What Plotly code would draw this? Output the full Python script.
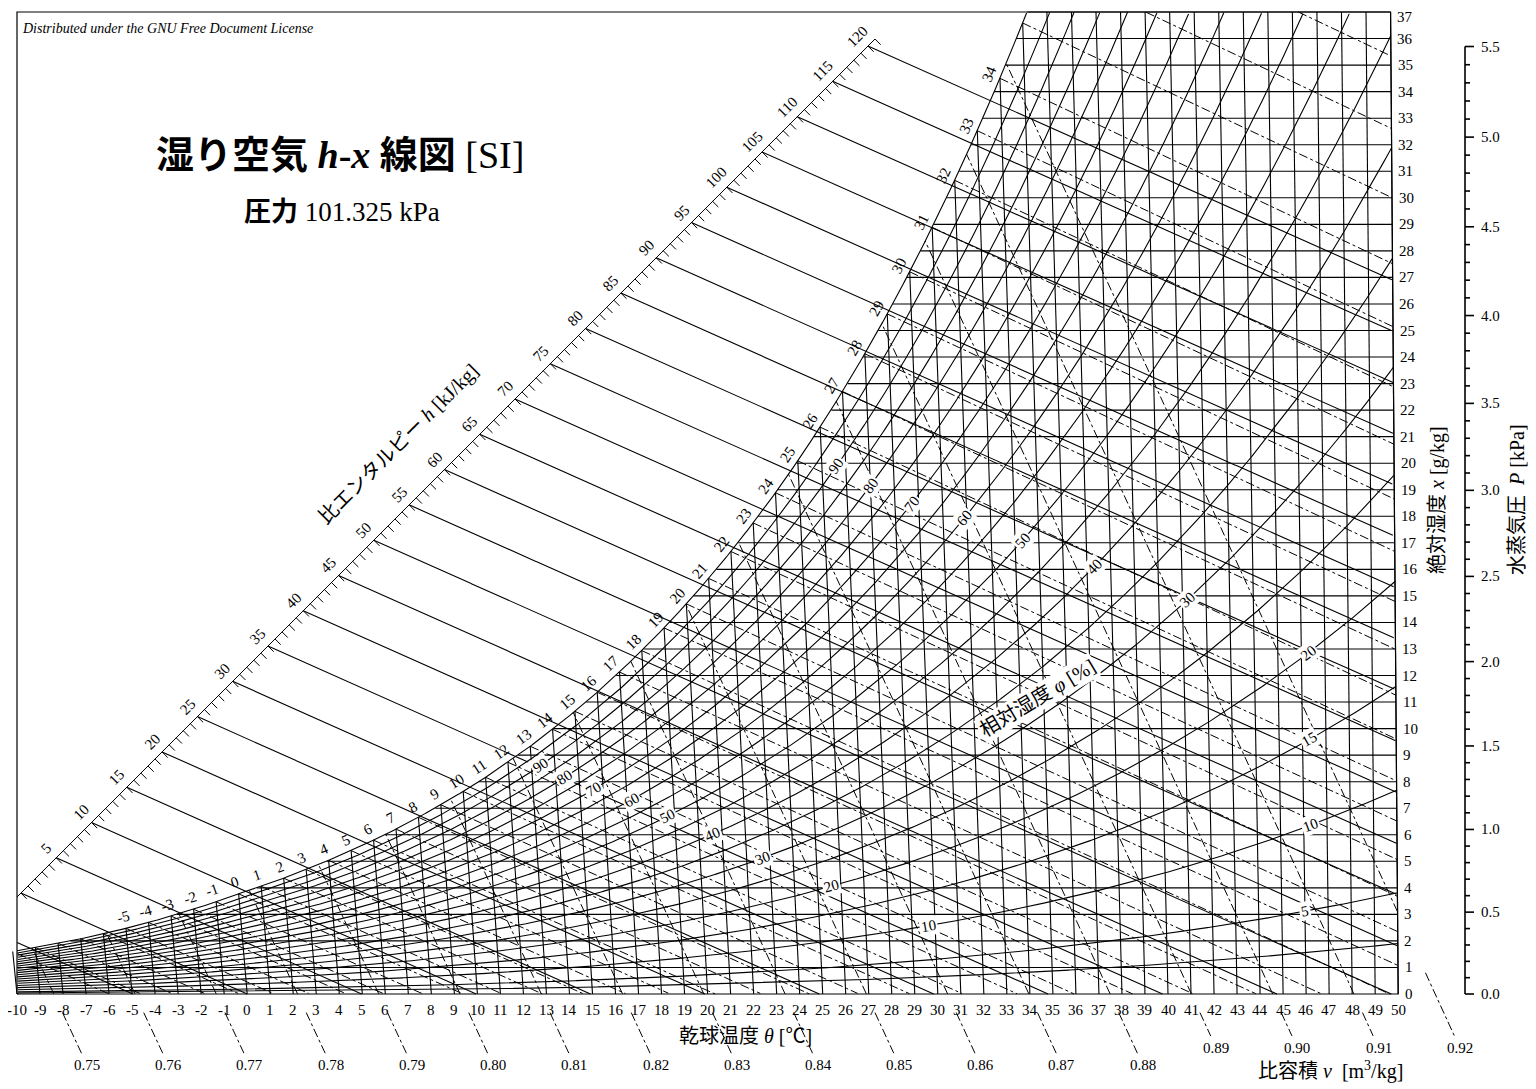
import numpy as np
import plotly.graph_objects as go

# --- data ---
P_ATM = 101.325
sat_t = list(range(-10, 51))
sat_p_kpa = [0.2599, 0.2844, 0.3100, 0.3376, 0.3677, 0.4015, 0.4372, 0.4760, 0.5176, 0.5626,
             0.6112, 0.6571, 0.7060, 0.7581, 0.8135, 0.8726, 0.9354, 1.0021, 1.0730, 1.1482,
             1.2282, 1.3130, 1.4028, 1.4981, 1.5990, 1.7058, 1.8188, 1.9384, 2.0647, 2.1983,
             2.3393, 2.4882, 2.6453, 2.8111, 2.9858, 3.1699, 3.3639, 3.5681, 3.7831, 4.0092,
             4.2470, 4.4969, 4.7596, 5.0354, 5.3251, 5.6290, 5.9479, 6.2823, 6.6328, 7.0002,
             7.3849, 7.7878, 8.2096, 8.6508, 9.1124, 9.5950, 10.099, 10.627, 11.177, 11.752, 12.352]
temp_ticks = list(range(-10, 51))
hum_ticks = list(range(0, 38))
enthalpy_lines = list(range(-10, 121, 5))
enthalpy_labels = list(range(5, 121, 5))
wetbulb_lines = list(range(-10, 41))
dew_labels = list(range(-5, 35))
rh_lines = [2.5] + list(range(5, 100, 5))
volume_lines = [round(0.75 + 0.01 * i, 2) for i in range(18)]
pressure_ticks = [round(0.1 * i, 1) for i in range(56)]
rh_labels_upper = [(90, 26.6), (80, 28.0), (70, 29.7), (60, 31.9), (50, 34.3), (40, 37.3),
                   (30, 41.2), (20, 46.3), (15, 46.3), (10, 46.3), (5, 46.0)]
rh_labels_lower = [(90, 13.4), (80, 14.4), (70, 15.6), (60, 17.2), (50, 18.7), (40, 20.6),
                   (30, 22.7), (20, 25.6), (10, 29.7)]

# chart geometry (screen px per degC / per g/kg, oblique h-x isotherms)
SX, SY = 23.02, 26.54
X0, Y0 = 9, 986
TMIN, TMAX, XMAX = -10, 50, 37
K_LEAN, T0 = 0.001794, 55.0


def U(t, x):
    return t + K_LEAN * x * (t - T0)


def ps(t):
    return np.interp(t, sat_t, sat_p_kpa)


def xsat(t):
    p = ps(t)
    return 622 * p / (P_ATM - p)


def inside(t, x, sat=True):
    ok = (U(t, x) >= TMIN - 1e-6) & (t <= TMAX + 1e-6) & (x >= -1e-6) & (x <= XMAX + 1e-6)
    if sat:
        ok &= x <= xsat(t) + 0.02
    return ok


def add_poly(bx, by, t, x, mask):
    t = np.asarray(t, float); x = np.asarray(x, float)
    u = U(t, x)
    prev = False
    for i in range(len(t)):
        if mask[i]:
            bx.append(u[i]); by.append(x[i]); prev = True
        elif prev:
            bx.append(None); by.append(None); prev = False
    if prev:
        bx.append(None); by.append(None)


fig = go.Figure()
anns = []
SERIF = "Liberation Serif, Noto Sans CJK JP"


def lines(bx, by, width=1, dash="solid", color="black"):
    fig.add_trace(go.Scatter(x=bx, y=by, mode="lines", hoverinfo="skip",
                             line=dict(color=color, width=width, dash=dash)))


def txt(u, x, s, size=15, angle=0, xa="center", ya="middle", bg=None, paper=False):
    d = dict(x=u, y=x, text=s, showarrow=False, textangle=angle, xanchor=xa, yanchor=ya,
             font=dict(family=SERIF, size=size, color="black"))
    if bg:
        d["bgcolor"] = bg
        d["borderpad"] = 1
    if paper:
        d["xref"] = "paper"; d["yref"] = "paper"
    anns.append(d)


# isotherms and humidity lines
bx, by = [], []
for t in temp_ticks:
    xt = min(xsat(t), XMAX)
    bx += [U(t, 0), U(t, xt), None]; by += [0, xt, None]
tt = np.linspace(TMIN, TMAX, 2401)
for xv in hum_ticks[1:]:
    td = tt[np.argmax(xsat(tt) >= xv)] if xsat(TMIN) < xv else TMIN
    ul = max(U(td, xv), TMIN)
    bx += [ul, U(TMAX, xv), None]; by += [xv, xv, None]
lines(bx, by, 1.1)

# saturation curve and RH curves
bx, by = [], []
t_s = np.linspace(TMIN - 0.5, TMAX, 1221)
add_poly(bx, by, t_s, xsat(t_s), inside(t_s, xsat(t_s)))
for rh in rh_lines:
    p = rh / 100 * ps(t_s)
    xr = 622 * p / (P_ATM - p)
    add_poly(bx, by, t_s, xr, inside(t_s, xr))
lines(bx, by, 1.1)


# enthalpy scale: straight line in screen space
def arc_x(u):
    return (Y0 + X0 - 898 + SX * (u + 10)) / SY


def h_t(h, x):
    return (h - 2.501 * x) / (1.006 + 0.001805 * x)


def h_on_arc(h):
    lo, hi = 0.0, 45.0
    for _ in range(60):
        m = 0.5 * (lo + hi)
        if arc_x(U(h_t(h, m), m)) > m:
            lo = m
        else:
            hi = m
    return U(h_t(h, m), m), m


bx, by = [], []
for h in enthalpy_lines:
    ua, xa = h_on_arc(h)
    xs_ = np.linspace(min(xa, XMAX), 0, 800)
    ts_ = h_t(h, xs_)
    add_poly(bx, by, ts_, xs_, inside(ts_, xs_, sat=False))
lines(bx, by, 1.1)

# arc line and ticks
u_top = h_on_arc(121)[0]
u_arc = np.linspace(TMIN, u_top, 50)
bx, by = list(u_arc), list(arc_x(u_arc))
bx.append(None); by.append(None)
du, dx = 5.7 / SX, -5.7 / SY
for h in range(-5, 122):
    ua, xa = h_on_arc(h)
    if ua < TMIN or xa > XMAX:
        continue
    bx += [ua, ua + du, None]; by += [xa, xa + dx, None]
lines(bx, by, 1)
for h in enthalpy_labels:
    ua, xa = h_on_arc(h)
    txt(ua - 10 / SX, xa + 10 / SY, str(h), 15, -45)

# wet-bulb lines (dash-dot)
bx, by = [], []
for tw in wetbulb_lines:
    xw = xsat(tw) / 1000
    t_w = np.linspace(tw, TMAX, 600)
    xl = ((2501 - 2.326 * tw) * xw - 1.006 * (t_w - tw)) / (2501 + 1.86 * t_w - 4.186 * tw) * 1000
    add_poly(bx, by, t_w, xl, inside(t_w, xl))
lines(bx, by, 1, "dashdot")


def vol_t(v, x):
    return v * P_ATM / (0.287042 * (1 + 1.6078 * x / 1000)) - 273.15


# specific volume lines and leaders
bx, by = [], []
for v in volume_lines:
    xv = np.linspace(-3, XMAX, 1600)
    tv = vol_t(v, xv)
    add_poly(bx, by, tv, xv, inside(tv, xv))
    L = 2.03 if v >= 0.885 else 2.68
    top = -0.7 if v < 0.915 else 0.8
    xl = np.linspace(top, -L + 0.45, 30)
    add_poly(bx, by, vol_t(v, xl), xl, np.ones(len(xl), bool))
    txt(U(vol_t(v, -L), -L), -L, f"{v:.2f}", 15)
lines(bx, by, 1, "dashdot")


def tangent_angle(fx, t):
    du_ = U(t + 0.5, fx(t + 0.5)) - U(t - 0.5, fx(t - 0.5))
    dx_ = fx(t + 0.5) - fx(t - 0.5)
    return np.arctan2(dx_ * SY, du_ * SX)


# dew point / wet-bulb labels along saturation
for t in dew_labels:
    ang = tangent_angle(xsat, t)
    nu, nx = -np.sin(ang) * 12 / SX, np.cos(ang) * 12 / SY
    txt(U(t, xsat(t)) + nu, xsat(t) + nx, str(t), 15, -np.degrees(ang))


# RH labels
def rh_label(rh, t):
    def fx(tt_):
        p = rh / 100 * ps(tt_)
        return 622 * p / (P_ATM - p)
    ang = np.degrees(tangent_angle(fx, t))
    txt(U(t, fx(t)), fx(t), str(rh), 15, -ang, bg="white")


for rh, t in rh_labels_upper + rh_labels_lower:
    rh_label(rh, t)

# axis labels
for t in temp_ticks:
    txt(t, -0.62, str(t), 15)
for xv in hum_ticks:
    txt(U(TMAX, xv) + 0.2, xv - (0.2 if xv == 37 else 0), str(xv), 15, xa="left")

# vapour pressure axis
TP = (1465 - 8 - X0) / SX - 10
bx, by = [TP, TP, None], [0, 622 * 5.5 / (P_ATM - 5.5), None]
for p in pressure_ticks:
    xp = 622 * p / (P_ATM - p)
    major = abs(p * 2 - round(p * 2)) < 1e-6
    ln = 9 if major else 5
    bx += [TP, TP + ln / SX, None]; by += [xp, xp, None]
    if major:
        txt(TP + 14 / SX, xp, f"{p:.1f}", 15, xa="left")
lines(bx, by, 1.6)

# frame
lines([TMIN, TMIN, U(TMAX, XMAX), U(TMAX, 0), TMIN],
      [0, XMAX, XMAX, 0, 0], 1.2)


# titles and texts (paper coords, reference px)
def pp(px, py):
    return (px - 8) / 1536, 1 - (py - 8) / 1089


x_, y_ = pp(20, 28)
txt(x_, y_, "<i>Distributed under the GNU Free Document License</i>", 14, xa="left", paper=True)
x_, y_ = pp(340, 155)
txt(x_, y_, "<b>湿り空気 <i>h</i>-<i>x</i> 線図</b> [SI]", 38, paper=True)
x_, y_ = pp(342, 212)
txt(x_, y_, "<b>圧力</b> 101.325 kPa", 27, paper=True)
x_, y_ = pp(745, 1036)
txt(x_, y_, "乾球温度 <i>θ</i> [℃]", 20, paper=True)
x_, y_ = pp(1330, 1070)
txt(x_, y_, "比容積 <i>ν</i>  [m<sup>3</sup>/kg]", 20, paper=True)
x_, y_ = pp(1437, 500)
txt(x_, y_, "絶対湿度 <i>x</i> [g/kg]", 20, -90, paper=True)
x_, y_ = pp(1517, 500)
txt(x_, y_, "水蒸気圧  <i>P</i> [kPa]", 20, -90, paper=True)
x_, y_ = pp(398, 444)
txt(x_, y_, "比エンタルピー <i>h</i> [kJ/kg]", 20, -45, bg="white", paper=True)
x_, y_ = pp(1037, 698)
txt(x_, y_, "相対湿度 <i>φ</i> [%]", 20, -31, bg="white", paper=True)

fig.update_layout(
    width=1536, height=1089, margin=dict(l=0, r=0, t=0, b=0),
    plot_bgcolor="white", paper_bgcolor="white", showlegend=False,
    annotations=anns,
    xaxis=dict(range=[(0 - X0) / SX - 10, (1536 - X0) / SX - 10], visible=False, fixedrange=True),
    yaxis=dict(range=[(Y0 - 1089) / SY, Y0 / SY], visible=False, fixedrange=True),
)
fig.write_html("out.html")
